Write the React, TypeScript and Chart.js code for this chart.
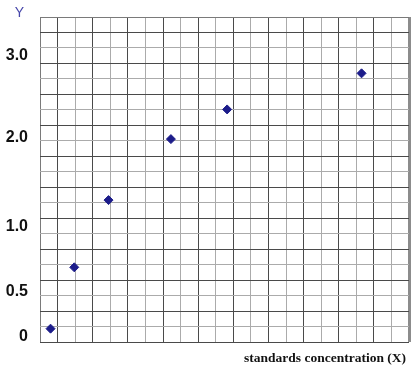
import React, { useEffect, useRef } from 'react';
import { Chart, registerables, LinearScale } from 'chart.js';

Chart.register(...registerables);

// ---- data ----
const xValues = [0.6, 1.95, 3.9, 7.45, 10.65, 18.3];
const yValues = [0.09, 0.69, 1.3, 1.98, 2.34, 2.78];
const yTickValues = [0, 0.5, 1, 2, 3];
const yTickLabels = ['0', '0.5', '1.0', '2.0', '3.0'];
const yAxisTitle = 'Y';
const xAxisTitle = 'standards concentration (X)';
const gridDivisions = 21;

// ---- layout of the (non-uniform) value axis: fraction of plot height for each labelled value ----
const KNOT_FRACTIONS = [0.0163, 0.1538, 0.3538, 0.6298, 0.8822];

function valueToFraction(v: number): number {
  const xs = yTickValues;
  const fs = KNOT_FRACTIONS;
  let i = 0;
  if (v <= xs[0]) i = 0;
  else if (v >= xs[xs.length - 1]) i = xs.length - 2;
  else {
    while (v > xs[i + 1]) i++;
  }
  const t = (v - xs[i]) / (xs[i + 1] - xs[i]);
  return fs[i] + t * (fs[i + 1] - fs[i]);
}

function fractionToValue(f: number): number {
  const xs = yTickValues;
  const fs = KNOT_FRACTIONS;
  let i = 0;
  if (f <= fs[0]) i = 0;
  else if (f >= fs[fs.length - 1]) i = fs.length - 2;
  else {
    while (f > fs[i + 1]) i++;
  }
  const t = (f - fs[i]) / (fs[i + 1] - fs[i]);
  return xs[i] + t * (xs[i + 1] - xs[i]);
}

class PiecewiseScale extends LinearScale {
  static id = 'piecewise';
  static defaults = (LinearScale as any).defaults;
  getPixelForValue(value: any) {
    if (value === null || value === undefined || isNaN(value)) return NaN;
    return (this as any).getPixelForDecimal(valueToFraction(+value));
  }
  getValueForPixel(pixel: number) {
    return fractionToValue((this as any).getDecimalForPixel(pixel));
  }
}
Chart.register(PiecewiseScale as any);

const gridTicks = (s: any) => {
  const t = [];
  for (let i = 0; i <= gridDivisions; i++) t.push({ value: i });
  s.ticks = t;
};

const noPad = (s: any) => {
  s.paddingTop = 0;
  s.paddingBottom = 0;
  s.paddingLeft = 0;
  s.paddingRight = 0;
};

const DARK = '#4a4a4a';
const LIGHT = '#ababab';

const titlesPlugin = {
  id: 'titlesPlugin',
  afterDraw(chart: any) {
    const ctx = chart.ctx;
    ctx.save();
    ctx.fillStyle = '#4646aa';
    ctx.font = '14px "Liberation Sans", Arial, sans-serif';
    ctx.textAlign = 'center';
    ctx.textBaseline = 'alphabetic';
    ctx.fillText(yAxisTitle, 19.5, 17);
    ctx.fillStyle = '#111';
    ctx.font = 'bold 13.5px "Liberation Serif", "Times New Roman", serif';
    ctx.textAlign = 'right';
    ctx.fillText(xAxisTitle, 406, 361.5);
    ctx.restore();
  },
};

export default function App() {
  const ref = useRef<HTMLCanvasElement | null>(null);
  useEffect(() => {
    if (!ref.current) return;
    const chart = new Chart(ref.current, {
      type: 'scatter',
      data: {
        datasets: [
          {
            data: xValues.map((x, i) => ({ x, y: yValues[i] })),
            pointStyle: 'rectRot',
            pointRadius: 4.5,
            pointBorderWidth: 1,
            backgroundColor: '#1c1c8a',
            borderColor: '#1c1c8a',
            yAxisID: 'y',
            xAxisID: 'x',
          },
        ],
      },
      options: {
        responsive: false,
        animation: false,
        layout: { autoPadding: false, padding: { top: 17, right: 2, bottom: 0, left: 0 } },
        plugins: {
          legend: { display: false },
          tooltip: { enabled: false },
        },
        events: [],
        scales: {
          x: {
            type: 'linear',
            position: 'bottom',
            min: 0,
            max: gridDivisions,
            afterBuildTicks: gridTicks,
            ticks: { display: false },
            border: { display: false },
            grid: {
              drawTicks: false,
              color: (c: any) =>
                c.index === gridDivisions ? '#8c8c8c' : c.index === 0 ? '#7a7a7a' : c.index % 2 === 1 ? DARK : LIGHT,
              lineWidth: (c: any) => (c.index === gridDivisions ? 3 : 1),
            },
            afterFit: (s: any) => {
              s.height = 40;
              noPad(s);
            },
          },
          yGrid: {
            type: 'linear',
            position: 'left',
            min: 0,
            max: gridDivisions,
            afterBuildTicks: gridTicks,
            ticks: { display: false },
            border: { display: false },
            grid: {
              drawTicks: false,
              color: (c: any) =>
                c.index === gridDivisions ? '#7a7a7a' : c.index % 2 === 0 ? DARK : LIGHT,
            },
            afterFit: (s: any) => {
              s.width = 0;
              noPad(s);
            },
          },
          y: {
            type: 'piecewise' as any,
            position: 'left',
            min: fractionToValue(0),
            max: fractionToValue(1),
            afterBuildTicks: (s: any) => {
              s.ticks = yTickValues.map((v) => ({ value: v }));
            },
            ticks: {
              autoSkip: false,
              padding: 12,
              color: '#111',
              font: { family: '"Liberation Sans", Arial, sans-serif', weight: 'bold', size: 16 },
              callback: (_v: any, i: number) => yTickLabels[i],
            },
            border: { display: false },
            grid: { display: false, drawTicks: false },
            afterFit: (s: any) => {
              s.width = 40;
              noPad(s);
            },
          },
        } as any,
      },
      plugins: [titlesPlugin],
    });
    return () => chart.destroy();
  }, []);
  return (
    <div style={{ position: 'absolute', left: 0, top: 0, width: 411, height: 382, background: '#fff' }}>
      <canvas ref={ref} width={411} height={382} style={{ display: 'block' }} />
    </div>
  );
}
